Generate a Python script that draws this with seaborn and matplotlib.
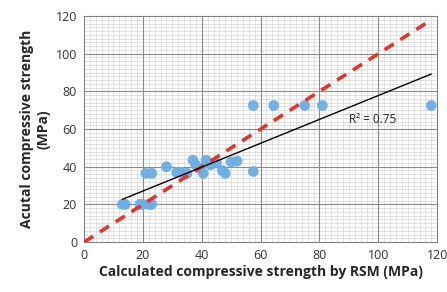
import numpy as np
import pandas as pd
import matplotlib
matplotlib.use("Agg")
import matplotlib.pyplot as plt
import seaborn as sns

# Values
calc_rsm = [13, 14, 19, 20, 22, 23, 21, 23, 28, 31.5, 33, 35, 37, 38, 39.5, 40.5,
            41.5, 43, 45, 47, 48, 50, 52, 57.5, 57.5, 64.5, 75, 81, 118]
actual = [20, 20, 20, 20, 20, 20, 36.5, 36.5, 40, 37, 37, 36.5, 43.5, 41, 39, 36.5,
          43.5, 41, 42, 38, 36.5, 42.5, 43, 37.5, 72.5, 72.5, 72.5, 72.5, 72.5]
ideal_x = [0, 117]
ticks = [0, 20, 40, 60, 80, 100, 120]
r2_label = "R² = 0.75"

df = pd.DataFrame({"calc": calc_rsm, "actual": actual})

sns.set_style("white")
plt.rcParams["font.family"] = ["Open Sans", "DejaVu Sans"]

fig = plt.figure(figsize=(4.47, 2.92), dpi=100)
ax = fig.add_axes([0.188, 0.171, 0.79, 0.774])

# grid: minor every 2 (axis grid), major every 20 drawn on top
ax.set_xticks(ticks)
ax.set_yticks(ticks)
ax.set_xticks(np.arange(0, 121, 2), minor=True)
ax.set_yticks(np.arange(0, 121, 2), minor=True)
ax.grid(which="minor", color="#dcdcdc", lw=0.6)
ax.grid(which="major", visible=False)
ax.set_axisbelow(True)
for t in ticks[1:-1]:
    ax.axvline(t, color="#8c8c8c", lw=0.8, zorder=1)
    ax.axhline(t, color="#8c8c8c", lw=0.8, zorder=1)

sns.scatterplot(data=df, x="calc", y="actual", ax=ax, s=60, color="#6aaee6",
                edgecolor="none", alpha=0.95, zorder=3)
sns.lineplot(x=ideal_x, y=ideal_x, ax=ax, color="#e8332a", lw=2.6,
             dashes=(3, 2.2), zorder=4)
sns.regplot(data=df, x="calc", y="actual", ax=ax, scatter=False, ci=None,
            color="black", line_kws={"lw": 1.0, "zorder": 5})

ax.text(90, 65, r2_label, fontsize=8.5, color="#222222", va="center")

ax.set_xlim(0, 120)
ax.set_ylim(0, 120)
ax.tick_params(which="minor", length=0)
ax.tick_params(which="major", length=3, color="#808080", labelsize=9,
               labelcolor="#333333", pad=2)
for sp in ax.spines.values():
    sp.set_color("#808080")
    sp.set_linewidth(0.8)

ax.set_xlabel("Calculated compressive strength by RSM (MPa)", fontsize=10,
              fontweight="bold", labelpad=2)
ax.set_ylabel("Acutal compressive strength\n(MPa)", fontsize=10,
              fontweight="bold", labelpad=4)

fig.savefig("out.png", dpi=100)
